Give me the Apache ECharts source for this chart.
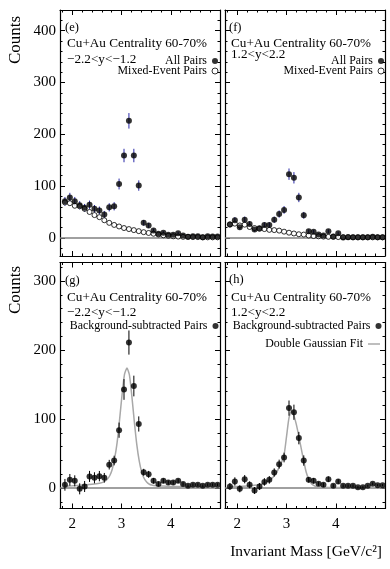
<!DOCTYPE html>
<html lang="en">
<head>
    <meta charset="UTF-8">
    <title>J/psi invariant mass, Cu+Au 60-70%</title>
    <script type="text/javascript" src="https://cdn.jsdelivr.net/npm/echarts@6/dist/echarts.min.js"></script>
    <style>
        body { margin: 0; background: #fff; }
        #chart { width: 390px; height: 569px; }
    </style>
</head>
<body>
<div id="chart"></div>
<script type="text/javascript">
    // bin centres [GeV/c^2]
    var mass = [1.85, 1.95, 2.05, 2.15, 2.25, 2.35, 2.45, 2.55, 2.65, 2.75, 2.85, 2.95, 3.05, 3.15, 3.25, 3.35,
        3.45, 3.55, 3.65, 3.75, 3.85, 3.95, 4.05, 4.15, 4.25, 4.35, 4.45, 4.55, 4.65, 4.75, 4.85, 4.95];

    // (e) -2.2<y<-1.2
    var allPairsS = [70.5, 78, 70.5, 63, 58, 64, 56, 53, 45, 59, 61, 104, 159, 226, 159, 101,
        29, 24, 14, 8, 10, 6, 6, 9, 4.5, 2, 3, 3, 1, 3, 2.5, 2.5];
    var allErrS = [8.5, 9, 8.5, 8, 7.5, 8, 7.5, 7.5, 7, 8, 8, 10.5, 13, 15, 13, 10,
        5.5, 5, 4, 3, 3, 2.5, 2.5, 3, 2, 1.5, 2, 2, 1, 2, 2, 2];
    var mixedS = [68.5, 67, 62, 61, 56, 50, 44, 40, 34, 29, 25, 22, 19, 17, 15, 13,
        11, 9.5, 8, 6.5, 5, 4, 3, 2.5, 2, 2, 1.5, 1.5, 1, 1, 1, 1];

    // (f) 1.2<y<2.2
    var allPairsN = [25.6, 34, 20.5, 35, 27, 16, 18.6, 25, 25, 35, 46, 54, 123, 116, 78, 43.6,
        13, 12, 6.4, 4.5, 13, 2.6, 9, 0.6, 1, 1, 1, 1, 1, 2, 1, 1];
    var allErrN = [5, 6, 4.5, 6, 5, 4, 4.5, 5, 5, 6, 7, 7.5, 11, 11, 9, 6.5,
        3.5, 3.5, 2.5, 2, 3.5, 1.5, 3, 1, 1, 1, 1, 1, 1, 1.5, 1, 1];
    var mixedN = [26, 27.5, 24, 25.5, 21, 19, 17.5, 17, 15.5, 15, 14, 12, 10, 8.5, 7, 6.4,
        4.5, 3.5, 3, 2.5, 2, 2, 1.5, 1.5, 1.5, 1, 1, 1, 1, 1, 1, 1];

    // (g) background subtracted, -2.2<y<-1.2
    var subS = [4.8, 12, 10.6, -1, 2.4, 17, 15, 17.4, 15, 34, 40, 84, 143, 211, 148, 93,
        23, 20, 10.6, 6, 10.6, 8, 8, 10.6, 6, 3.4, 5, 5, 3.4, 5, 5, 5];
    var subErrS = [8.5, 8.5, 8, 8, 8, 8, 8, 7.5, 7, 7, 7, 11, 15, 17.5, 15, 11,
        5, 5, 4, 3.5, 3.5, 3, 3, 3, 2.5, 2, 2, 2, 2, 2, 2, 2];
    var fitMassS = [1.85, 2.0, 2.2, 2.4, 2.55, 2.65, 2.71, 2.76, 2.81, 2.86, 2.91, 2.96, 3.01, 3.06, 3.11, 3.16,
        3.21, 3.26, 3.31, 3.36, 3.41, 3.46, 3.51, 3.56, 3.61, 3.7, 3.85, 4.0, 4.3, 4.6, 4.95];
    var fitS = [3, 3.5, 4.5, 5.5, 7, 9.5, 13, 18, 27, 43, 66, 99, 135, 165, 174, 164,
        133, 96, 63, 39, 23, 14, 9, 6, 4.5, 3.5, 3, 2.5, 2, 1.8, 1.5];

    // (h) background subtracted, 1.2<y<2.2
    var subN = [2.4, 9.7, -1, 13, 4.8, -3.4, 2.4, 9, 12, 22.7, 34.8, 44.4, 116, 110, 72.5, 40,
        12, 10.6, 6.3, 4.8, 13, 3.4, 9.7, 3.4, 3.4, 3.4, 1.4, 1.4, 3.4, 6.3, 4.3, 4.3];
    var subErrN = [5, 6, 5, 6, 5, 5, 5, 5.5, 5.5, 6, 6.5, 7, 11, 11, 9, 7.5,
        4, 4, 3, 3, 4, 2.5, 3.5, 2, 2, 2, 1.5, 1.5, 1.5, 2, 1.5, 1.5];
    var fitMassN = [1.85, 2.0, 2.2, 2.4, 2.5, 2.6, 2.7, 2.75, 2.8, 2.85, 2.9, 2.95, 3.0, 3.05, 3.1, 3.15,
        3.2, 3.25, 3.3, 3.35, 3.4, 3.45, 3.5, 3.55, 3.6, 3.7, 3.85, 4.0, 4.5, 4.95];
    var fitN = [2, 2.5, 3, 4.5, 6, 9, 14, 18, 23, 30, 38, 48, 75, 102, 112, 105,
        92, 75, 57, 39, 23, 13, 7, 4, 2.5, 1.5, 1, 1, 0.7, 0.5];

    // ticks
    var majorX = [2, 3, 4];
    var minorX = [1.8, 2.0, 2.2, 2.4, 2.6, 2.8, 3.0, 3.2, 3.4, 3.6, 3.8, 4.0, 4.2, 4.4, 4.6, 4.8, 5.0];
    var majorYTop = [0, 100, 200, 300, 400];
    var minorYTop = [-20, 0, 20, 40, 60, 80, 100, 120, 140, 160, 180, 200, 220, 240, 260, 280, 300, 320, 340, 360, 380, 400, 420];
    var majorYBot = [0, 100, 200, 300];
    var minorYBot = [-20, 0, 20, 40, 60, 80, 100, 120, 140, 160, 180, 200, 220, 240, 260, 280, 300, 320];

    var serif = '"Liberation Serif", "DejaVu Serif", serif';
    var errBlue = '#2a2aa8';

    function pairs(xs, ys) {
        var out = [];
        for (var i = 0; i < xs.length; i++) out.push([xs[i], ys[i]]);
        return out;
    }
    function bars(xs, ys, es) {
        var out = [];
        for (var i = 0; i < xs.length; i++) out.push([xs[i], ys[i] - es[i], ys[i] + es[i]]);
        return out;
    }

    var xAxes = [], yAxes = [];
    function addAxes(gi, ymin, ymax, yMaj, yMin, showX, showY) {
        var line = {color: '#000', width: 1.2};
        var tick = {color: '#000', width: 1};
        ['bottom', 'top'].forEach(function (pos) {
            xAxes.push({
                gridIndex: gi, type: 'value', min: 1.75, max: 5.0, position: pos,
                axisLine: {show: true, onZero: false, lineStyle: line},
                axisTick: {inside: true, length: 5, customValues: majorX, lineStyle: tick},
                axisLabel: {show: showX && pos === 'bottom', customValues: majorX, margin: 8,
                    color: '#000', fontFamily: serif, fontSize: 15},
                splitLine: {show: false}
            });
            xAxes.push({
                gridIndex: gi, type: 'value', min: 1.75, max: 5.0, position: pos,
                axisLine: {show: false, onZero: false},
                axisTick: {inside: true, length: 2.5, customValues: minorX, lineStyle: tick},
                axisLabel: {show: false}, splitLine: {show: false}
            });
        });
        ['left', 'right'].forEach(function (pos) {
            yAxes.push({
                gridIndex: gi, type: 'value', min: ymin, max: ymax, position: pos,
                axisLine: {show: true, onZero: false, lineStyle: line},
                axisTick: {inside: true, length: 5, customValues: yMaj, lineStyle: tick},
                axisLabel: {show: showY && pos === 'left', customValues: yMaj, margin: 4,
                    color: '#000', fontFamily: serif, fontSize: 15},
                splitLine: {show: false}
            });
            yAxes.push({
                gridIndex: gi, type: 'value', min: ymin, max: ymax, position: pos,
                axisLine: {show: false, onZero: false},
                axisTick: {inside: true, length: 2.5, customValues: yMin, lineStyle: tick},
                axisLabel: {show: false}, splitLine: {show: false}
            });
        });
    }
    addAxes(0, -35, 440, majorYTop, minorYTop, false, true);
    addAxes(1, -35, 440, majorYTop, minorYTop, false, false);
    addAxes(2, -29.5, 327, majorYBot, minorYBot, true, true);
    addAxes(3, -29.5, 327, majorYBot, minorYBot, true, false);

    function errSeries(gi, data, color) {
        return {
            type: 'custom', name: 'err' + gi, xAxisIndex: gi * 4, yAxisIndex: gi * 4, z: 2,
            data: data, encode: {x: 0, y: [1, 2]},
            renderItem: function (params, api) {
                var p1 = api.coord([api.value(0), api.value(1)]);
                var p2 = api.coord([api.value(0), api.value(2)]);
                return {type: 'line', shape: {x1: p1[0], y1: p1[1], x2: p2[0], y2: p2[1]},
                    style: {stroke: color, lineWidth: 1}};
            },
            markLine: {
                silent: true, symbol: 'none', label: {show: false}, z: 1,
                lineStyle: {color: '#808080', width: 1.5, type: 'solid'},
                data: [{yAxis: 0}]
            }
        };
    }
    function dots(gi, name, data, open) {
        return {
            type: 'scatter', name: name, xAxisIndex: gi * 4, yAxisIndex: gi * 4, z: open ? 3 : 4,
            symbol: 'circle', symbolSize: open ? 5 : 6, data: data,
            itemStyle: open ? {color: '#fff', borderColor: '#000', borderWidth: 1} : {color: '#000'}
        };
    }
    function fitLine(gi, data) {
        return {
            type: 'line', name: 'Double Gaussian Fit', xAxisIndex: gi * 4, yAxisIndex: gi * 4, z: 1,
            data: data, showSymbol: false, symbol: 'none', smooth: 0.2,
            lineStyle: {color: '#a8a8a8', width: 1.5}, itemStyle: {color: '#a8a8a8'}
        };
    }

    var series = [
        errSeries(0, bars(mass, allPairsS, allErrS), errBlue),
        dots(0, 'Mixed-Event Pairs', pairs(mass, mixedS), true),
        dots(0, 'All Pairs', pairs(mass, allPairsS), false),
        errSeries(1, bars(mass, allPairsN, allErrN), errBlue),
        dots(1, 'Mixed-Event Pairs', pairs(mass, mixedN), true),
        dots(1, 'All Pairs', pairs(mass, allPairsN), false),
        fitLine(2, pairs(fitMassS, fitS)),
        errSeries(2, bars(mass, subS, subErrS), '#000'),
        dots(2, 'Background-subtracted Pairs', pairs(mass, subS), false),
        fitLine(3, pairs(fitMassN, fitN)),
        errSeries(3, bars(mass, subN, subErrN), '#000'),
        dots(3, 'Background-subtracted Pairs', pairs(mass, subN), false)
    ];

    var legendText = {fontFamily: serif, fontSize: 11.9, color: '#000'};
    var pairNames = [
        {name: 'All Pairs', itemStyle: {color: '#000', borderWidth: 0}},
        {name: 'Mixed-Event Pairs', itemStyle: {color: '#fff', borderColor: '#000', borderWidth: 1}}
    ];
    function legend(right, top, names, w, h, gap) {
        return {
            orient: 'vertical', align: 'right', right: right, top: top, padding: 0,
            itemGap: gap || 0, itemWidth: w, itemHeight: h, textStyle: legendText,
            selectedMode: false, data: names
        };
    }

    var txt = [];
    function label(x, y, s, size) {
        txt.push({type: 'text', x: x, y: y, silent: true,
            style: {text: s, fill: '#000', font: (size || 13.2) + 'px ' + serif,
                align: 'left', verticalAlign: 'middle'}});
    }
    label(65, 28, '(e)', 12.5);
    label(67, 44, 'Cu+Au Centrality 60-70%');
    label(67, 60, '\u22122.2<y<\u22121.2');
    label(229, 28, '(f)', 12.5);
    label(231, 44, 'Cu+Au Centrality 60-70%');
    label(231, 55, '1.2<y<2.2');
    label(65, 281, '(g)', 12.5);
    label(67, 298, 'Cu+Au Centrality 60-70%');
    label(67, 313, '\u22122.2<y<\u22121.2');
    label(229, 280, '(h)', 12.5);
    label(231, 298, 'Cu+Au Centrality 60-70%');
    label(231, 313, '1.2<y<2.2');
    txt.push({type: 'text', x: 16, y: 40, rotation: Math.PI / 2, silent: true,
        style: {text: 'Counts', fill: '#000', font: '17px ' + serif, align: 'center', verticalAlign: 'middle'}});
    txt.push({type: 'text', x: 16, y: 290, rotation: Math.PI / 2, silent: true,
        style: {text: 'Counts', fill: '#000', font: '17px ' + serif, align: 'center', verticalAlign: 'middle'}});
    txt.push({type: 'text', x: 382, y: 552, silent: true,
        style: {text: 'Invariant Mass [GeV/c\u00b2]', fill: '#000', font: '15.5px ' + serif,
            align: 'right', verticalAlign: 'middle'}});

    var chart = echarts.init(document.getElementById('chart'));
    chart.setOption({
        animation: false,
        backgroundColor: '#fff',
        grid: [
            {left: 60, top: 10, width: 160, height: 246},
            {left: 225, top: 10, width: 160, height: 246},
            {left: 60, top: 262.5, width: 160, height: 246},
            {left: 225, top: 262.5, width: 160, height: 246}
        ],
        xAxis: xAxes,
        yAxis: yAxes,
        legend: [
            legend(171.5, 55, pairNames, 6, 6, -2),
            legend(5.5, 55, pairNames, 6, 6, -2),
            legend(171.5, 320, ['Background-subtracted Pairs'], 6, 6),
            legend(8.5, 320, ['Background-subtracted Pairs'], 6, 6),
            legend(10, 338, [{name: 'Double Gaussian Fit', icon: 'rect'}], 12, 1.5)
        ],
        graphic: txt,
        series: series
    });
</script>
</body>
</html>
